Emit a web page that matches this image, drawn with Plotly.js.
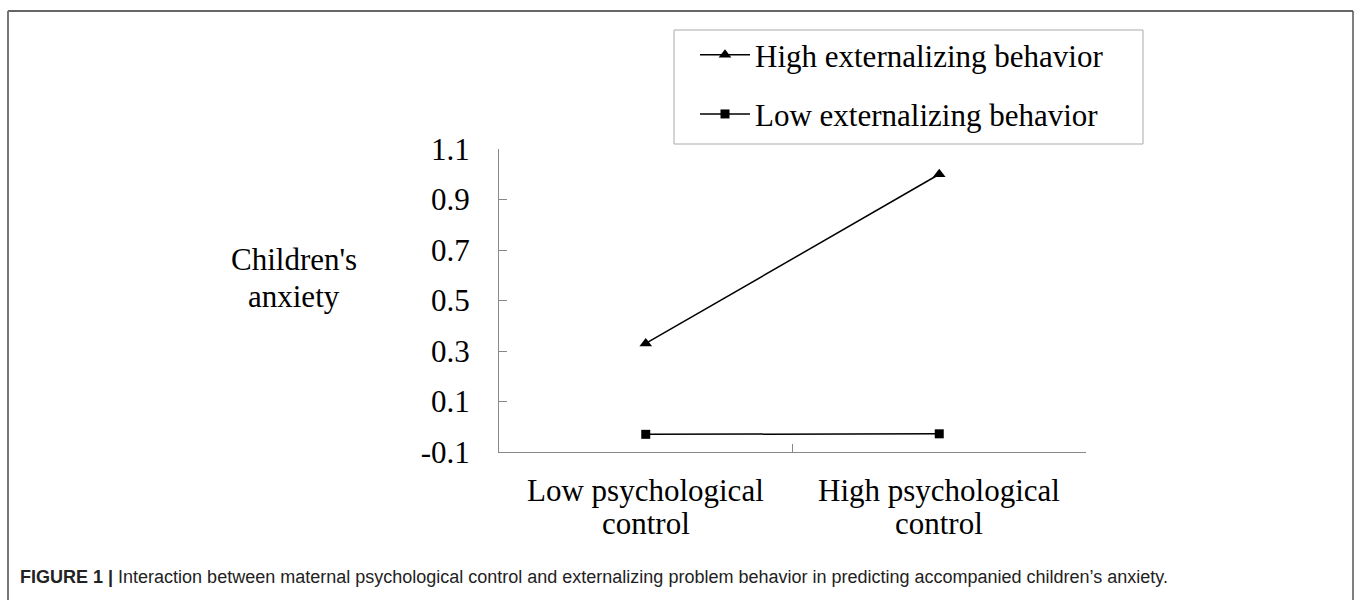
<!DOCTYPE html>
<html><head><meta charset="utf-8">
<script src="https://cdn.plot.ly/plotly-3.0.1.min.js"></script>
<style>html,body{margin:0;padding:0;background:#fff;}#chart{width:1357px;height:600px;}</style>
</head><body><div id="chart"></div>
<script>
const categories = ["Low psychological control", "High psychological control"];
const categoryLine1 = ["Low psychological", "High psychological"];
const categoryLine2 = ["control", "control"];
const seriesNames = ["High externalizing behavior", "Low externalizing behavior"];
const highValues = [0.33, 1.0];
const lowValues = [-0.03, -0.028];
const yTickVals = [-0.1, 0.1, 0.3, 0.5, 0.7, 0.9, 1.1];
const yTickText = ["-0.1", "0.1", "0.3", "0.5", "0.7", "0.9", "1.1"];
const yTitleLines = ["Children's", "anxiety"];
const captionBold = "FIGURE 1 |";
const captionText = " Interaction between maternal psychological control and externalizing problem behavior in predicting accompanied children\u2019s anxiety.";

const L = 499, R = 1086, T = 149, B = 452, W = 1357, H = 600;
const pw = R - L, ph = B - T;
const px = v => (v - L) / pw;
const py = v => (B - v) / ph;
const serif = "Liberation Serif, Times New Roman, serif";
const FS = 31;

const traces = [
  {x: categories, y: highValues, name: seriesNames[0], type: "scatter", mode: "lines+markers",
   line: {color: "#000", width: 1.5}, marker: {symbol: "triangle-up", size: 11, color: "#000"},
   legendgroup: "a"},
  {x: categories, y: lowValues, name: seriesNames[1], type: "scatter", mode: "lines+markers",
   line: {color: "#000", width: 1.5}, marker: {symbol: "square", size: 9, color: "#000"},
   legendgroup: "b"}
];

const annotations = [];
yTitleLines.forEach((t, i) => annotations.push({text: t, xref: "paper", yref: "paper",
  x: px(294), y: py([259, 296][i]), xanchor: "center", yanchor: "middle", showarrow: false,
  font: {family: serif, size: FS, color: "#000"}}));
categories.forEach((c, i) => {
  annotations.push({text: categoryLine1[i], xref: "x", yref: "paper", x: c, y: py(490),
    xanchor: "center", yanchor: "middle", showarrow: false, font: {family: serif, size: FS, color: "#000"}});
  annotations.push({text: categoryLine2[i], xref: "x", yref: "paper", x: c, y: py(523),
    xanchor: "center", yanchor: "middle", showarrow: false, font: {family: serif, size: FS, color: "#000"}});
});
annotations.push({text: "<b>" + captionBold + "</b>" + captionText, xref: "paper", yref: "paper",
  x: px(18), y: py(577), xanchor: "left", yanchor: "middle", showarrow: false,
  font: {family: "Liberation Sans, Arial, sans-serif", size: 18, color: "#222"}});

const layout = {
  width: W, height: H,
  margin: {l: L, r: W - R, t: T, b: H - B},
  paper_bgcolor: "#fff", plot_bgcolor: "#fff",
  font: {family: serif, size: FS, color: "#000"},
  showlegend: true,
  legend: {x: px(674), y: py(28), xanchor: "left", yanchor: "top",
    borderwidth: 0, bgcolor: "rgba(0,0,0,0)",
    font: {family: serif, size: FS, color: "#000"},
    traceorder: "grouped", tracegroupgap: 16, itemwidth: 50, indentation: 21},
  xaxis: {type: "category", range: [-0.5, 1.5], showline: true, linecolor: "#888", linewidth: 1,
    ticks: "inside", tickson: "boundaries", ticklen: 8, tickcolor: "#888",
    showgrid: false, zeroline: false, showticklabels: false},
  yaxis: {range: [-0.1, 1.1], tickvals: yTickVals, ticktext: yTickText,
    showline: true, linecolor: "#888", linewidth: 1, ticks: "inside", ticklen: 8, tickcolor: "#888",
    showgrid: false, zeroline: false, ticklabelstandoff: 22,
    tickfont: {family: serif, size: FS, color: "#000"}},
  annotations: annotations,
  shapes: [
    {type: "rect", xref: "paper", yref: "paper", x0: px(674), x1: px(1143), y0: py(30), y1: py(144),
     line: {color: "#aaa", width: 1}, fillcolor: "rgba(0,0,0,0)", layer: "above"},
    {type: "line", xref: "paper", yref: "paper", x0: px(8), x1: px(1353), y0: py(11), y1: py(11),
     line: {color: "#333", width: 1.5}},
    {type: "line", xref: "paper", yref: "paper", x0: px(8), x1: px(8), y0: py(11), y1: py(602),
     line: {color: "#777", width: 2}},
    {type: "line", xref: "paper", yref: "paper", x0: px(1353), x1: px(1353), y0: py(11), y1: py(602),
     line: {color: "#555", width: 1.5}}
  ]
};

Plotly.newPlot("chart", traces, layout, {displayModeBar: false, staticPlot: true});
</script></body></html>
